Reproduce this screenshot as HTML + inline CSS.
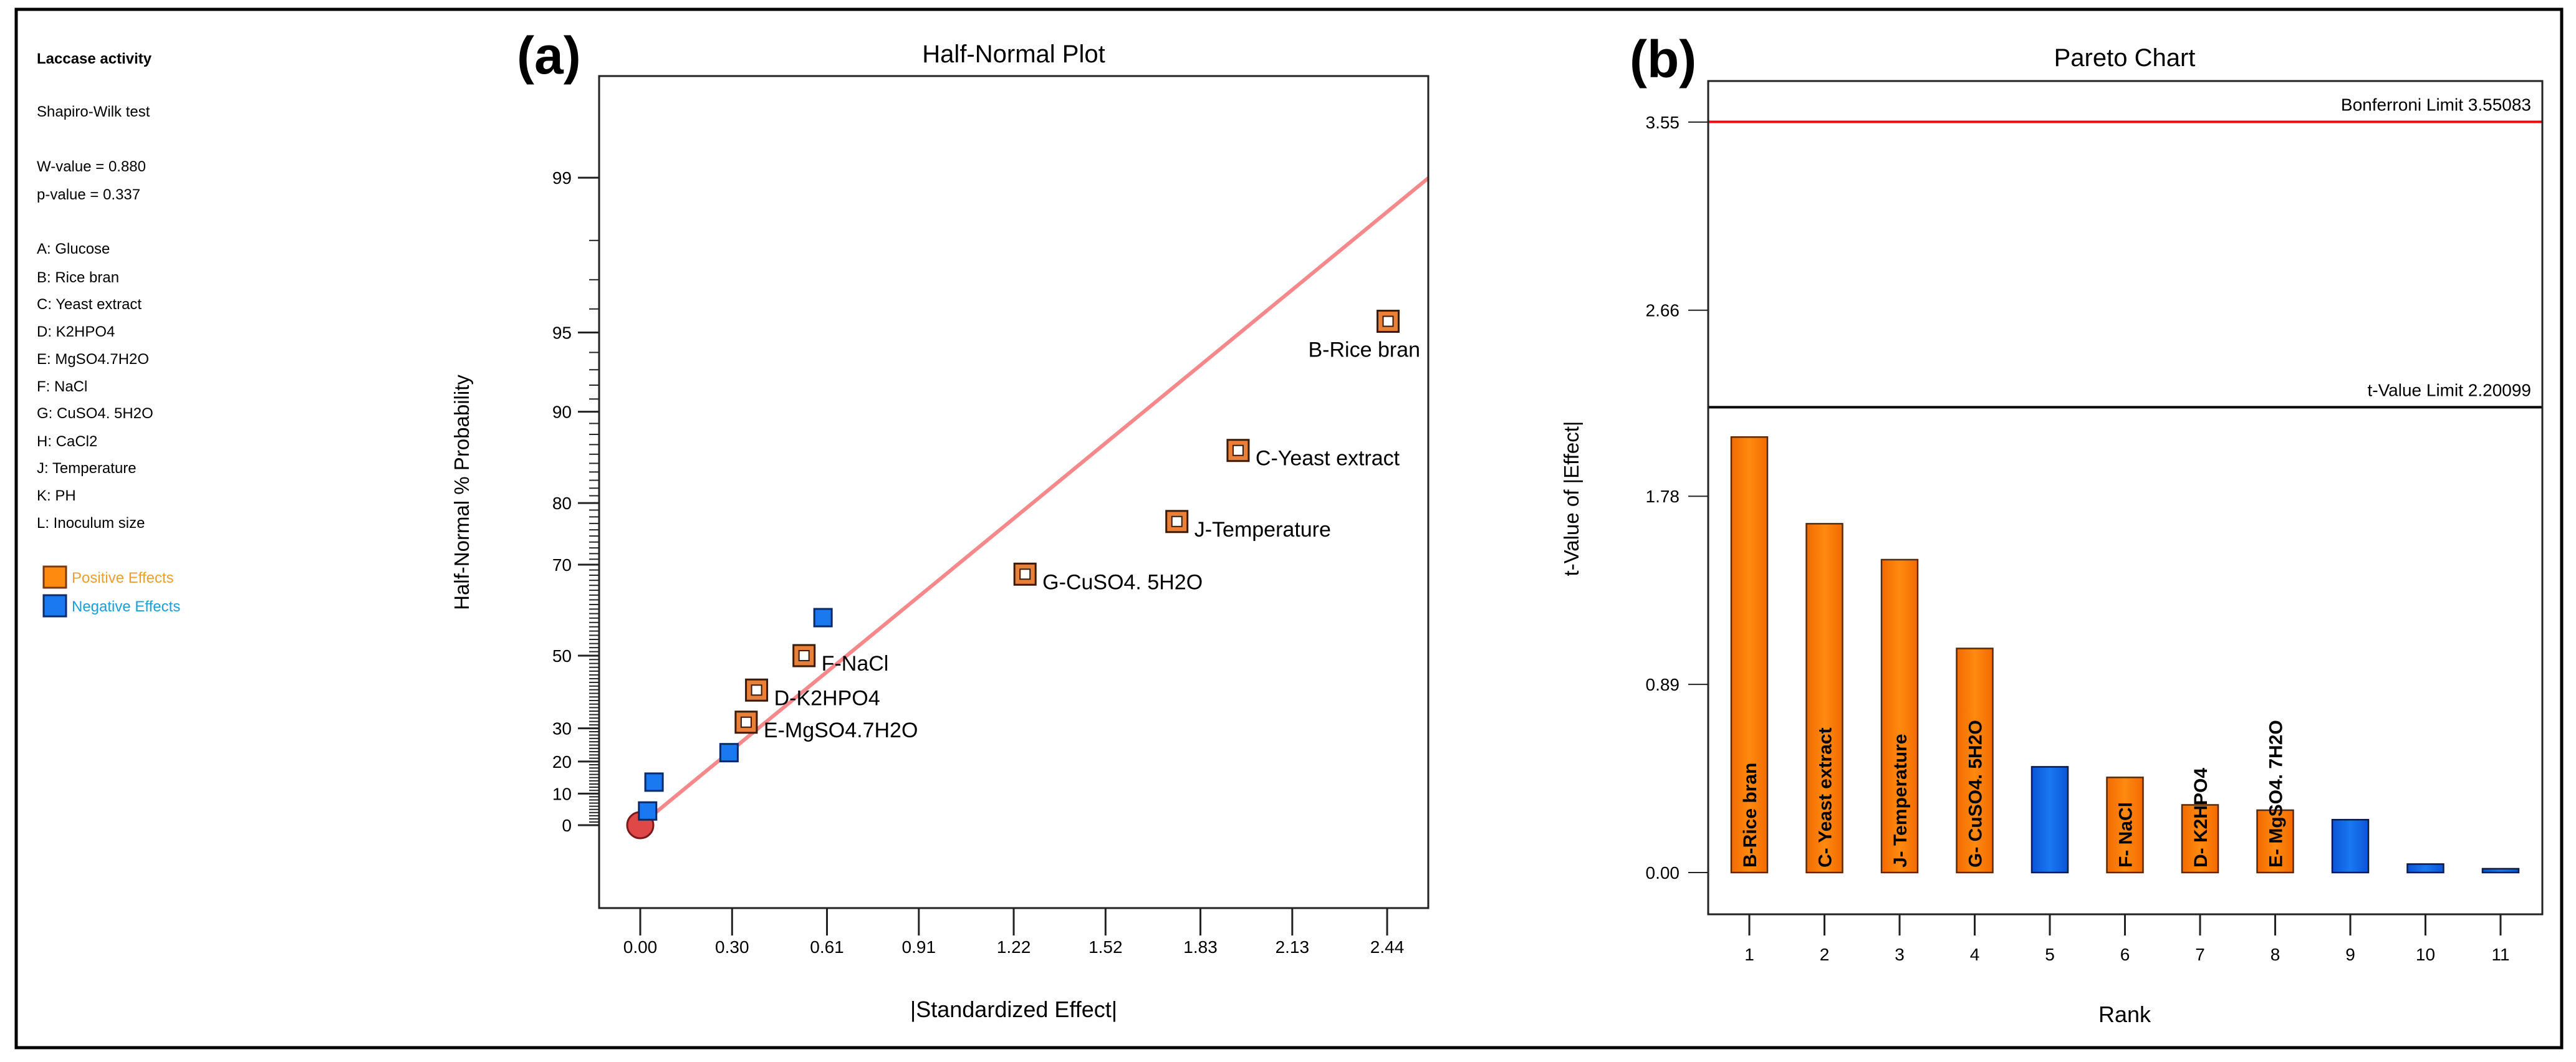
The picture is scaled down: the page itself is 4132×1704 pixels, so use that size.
<!DOCTYPE html>
<html><head><meta charset="utf-8"><style>
html,body{margin:0;padding:0;background:#fff}
svg{display:block;font-family:"Liberation Sans",sans-serif}
</style></head><body>
<svg id="root" width="4132" height="1704" viewBox="0 0 4132 1704" xmlns="http://www.w3.org/2000/svg">
<defs>
<linearGradient id="og" x1="0" x2="1" y1="0" y2="0"><stop offset="0" stop-color="#f26a00"/><stop offset="0.5" stop-color="#ff8a10"/><stop offset="1" stop-color="#f26a00"/></linearGradient>
<linearGradient id="bg" x1="0" x2="1" y1="0" y2="0"><stop offset="0" stop-color="#0a55d8"/><stop offset="0.5" stop-color="#1a78f0"/><stop offset="1" stop-color="#0a55d8"/></linearGradient>
</defs>
<rect x="26" y="15" width="4083" height="1666" fill="#fff" stroke="#000" stroke-width="5"/>
<g id="info" font-size="24" fill="#000">
<text x="59" y="102" font-weight="bold">Laccase activity</text>
<text x="59" y="187">Shapiro-Wilk test</text>
<text x="59" y="275">W-value = 0.880</text>
<text x="59" y="320">p-value = 0.337</text>
<text x="59" y="407">A: Glucose</text>
<text x="59" y="453">B: Rice bran</text>
<text x="59" y="496">C: Yeast extract</text>
<text x="59" y="540">D: K2HPO4</text>
<text x="59" y="584">E: MgSO4.7H2O</text>
<text x="59" y="628">F: NaCl</text>
<text x="59" y="671">G: CuSO4. 5H2O</text>
<text x="59" y="716">H: CaCl2</text>
<text x="59" y="759">J: Temperature</text>
<text x="59" y="803">K: PH</text>
<text x="59" y="847">L: Inoculum size</text>
<rect x="70" y="909" width="36" height="34" fill="#ff8a10" stroke="#7a3a10" stroke-width="3"/>
<text x="115" y="935" fill="#e8a030">Positive Effects</text>
<rect x="70" y="955" width="36" height="34" fill="#1a78f0" stroke="#0a2a6a" stroke-width="3"/>
<text x="115" y="981" fill="#18a0d8">Negative Effects</text>
</g>
<g id="pa"></g>
<g id="pb"></g>
</svg>
<script>
// ---- Half-normal plot data ----
const hnEffects = [0.024, 0.045, 0.29, 0.346, 0.38, 0.535, 0.597, 1.257, 1.753, 1.953, 2.443];
const hnProbs = [4.5, 13.6, 22.7, 31.8, 40.9, 50, 59.1, 68.2, 77.3, 86.4, 95.5];
const hnSigns = ["neg","neg","neg","pos","pos","pos","neg","pos","pos","pos","pos"];
const hnLabels = ["","","","E-MgSO4.7H2O","D-K2HPO4","F-NaCl","","G-CuSO4. 5H2O","J-Temperature","C-Yeast extract","B-Rice bran"];
const hnXTicks = [0.00, 0.30, 0.61, 0.91, 1.22, 1.52, 1.83, 2.13, 2.44];
const hnYTicks = [0, 10, 20, 30, 50, 70, 80, 90, 95, 99];
// ---- Pareto data ----
const parRanks = [1,2,3,4,5,6,7,8,9,10,11];
const parValues = [2.06, 1.65, 1.48, 1.06, 0.50, 0.45, 0.32, 0.295, 0.25, 0.04, 0.018];
const parSigns = ["pos","pos","pos","pos","neg","pos","pos","pos","neg","neg","neg"];
const parLabels = ["B-Rice bran","C- Yeast extract","J- Temperature","G- CuSO4. 5H2O","","F- NaCl","D- K2HPO4","E- MgSO4. 7H2O","","",""];
const parYTicks = [0.00, 0.89, 1.78, 2.66, 3.55];
const bonferroni = 3.55083;
const tLimit = 2.20099;

const NS = "http://www.w3.org/2000/svg";
function mk(parent, tag, attrs, text) {
  const e = document.createElementNS(NS, tag);
  for (const k in attrs) e.setAttribute(k, attrs[k]);
  if (text !== undefined) e.textContent = text;
  parent.appendChild(e);
  return e;
}
function invNorm(p) {
  const a=[-39.6968302866538,220.946098424521,-275.928510446969,138.357751867269,-30.6647980661472,2.50662827745924];
  const b=[-54.4760987982241,161.585836858041,-155.698979859887,66.8013118877197,-13.2806815528857];
  const c=[-0.00778489400243029,-0.322396458041136,-2.40075827716184,-2.54973253934373,4.37466414146497,2.93816398269878];
  const d=[0.00778469570904146,0.32246712907004,2.445134137143,3.75440866190742];
  const pl=0.02425;
  let q,r;
  if (p<pl){q=Math.sqrt(-2*Math.log(p));return (((((c[0]*q+c[1])*q+c[2])*q+c[3])*q+c[4])*q+c[5])/((((d[0]*q+d[1])*q+d[2])*q+d[3])*q+1);}
  if (p>1-pl){q=Math.sqrt(-2*Math.log(1-p));return -(((((c[0]*q+c[1])*q+c[2])*q+c[3])*q+c[4])*q+c[5])/((((d[0]*q+d[1])*q+d[2])*q+d[3])*q+1);}
  q=p-0.5;r=q*q;
  return (((((a[0]*r+a[1])*r+a[2])*r+a[3])*r+a[4])*r+a[5])*q/(((((b[0]*r+b[1])*r+b[2])*r+b[3])*r+b[4])*r+1);
}
// ---- Panel A ----
const pa = document.getElementById('pa');
const A = {l:961, r:2291, t:122, b:1457};
const ax = v => 1027 + v * 491;
const zOf = p => p <= 0 ? 0 : invNorm(0.5 + p / 200);
const ay = p => 1324 - zOf(p) * 403.3;
let t;
t = mk(pa,'text',{x:829,y:118,'font-size':84,'font-weight':'bold'},'(a)');


t = mk(pa,'text',{x:1626,y:100,'font-size':40,'text-anchor':'middle'},'Half-Normal Plot');


mk(pa,'clipPath',{id:'clipA'});
mk(document.getElementById('clipA'),'rect',{x:A.l,y:A.t,width:A.r-A.l,height:A.b-A.t});
const zTop = (1324 - A.t)/403.3;
t = mk(pa,'line',{x1:ax(0),y1:1324,x2:ax(zTop),y2:1324-zTop*403.3,stroke:'#f4888a','stroke-width':6,'clip-path':'url(#clipA)'});


t = mk(pa,'rect',{x:A.l,y:A.t,width:A.r-A.l,height:A.b-A.t,fill:'none',stroke:'#222','stroke-width':3});


for (let p=1;p<=99;p++){
  if (hnYTicks.includes(p)) continue;
  t = mk(pa,'line',{x1:A.l-16,x2:A.l,y1:ay(p),y2:ay(p),stroke:'#222','stroke-width':2});
  
  
}
hnYTicks.forEach(p=>{
  t = mk(pa,'line',{x1:A.l-34,x2:A.l,y1:ay(p),y2:ay(p),stroke:'#222','stroke-width':3});
  
  
  t = mk(pa,'text',{x:917,y:ay(p)+10,'font-size':28,'text-anchor':'end'},String(p));
  
  
});
hnXTicks.forEach(v=>{
  t = mk(pa,'line',{x1:ax(v),x2:ax(v),y1:A.b,y2:A.b+44,stroke:'#222','stroke-width':3});
  
  
  t = mk(pa,'text',{x:ax(v),y:1529,'font-size':28,'text-anchor':'middle'},v.toFixed(2));
  
  
});
t = mk(pa,'text',{x:1626,y:1632,'font-size':36,'text-anchor':'middle'},'|Standardized Effect|');


t = mk(pa,'text',{x:0,y:0,'font-size':33,'text-anchor':'middle',transform:'translate(752,790) rotate(-90)'},'Half-Normal % Probability');


t = mk(pa,'circle',{cx:ax(0),cy:ay(0),r:21,fill:'#e04848',stroke:'#7a1a1a','stroke-width':3});


hnEffects.forEach((v,i)=>{
  const cx=ax(v), cy=ay(hnProbs[i]);
  if (hnSigns[i]==='pos'){
    t = mk(pa,'rect',{x:cx-17,y:cy-17,width:34,height:34,fill:'#e8803a',stroke:'#3a1a08','stroke-width':3});
    
    
    mk(pa,'rect',{x:cx-8,y:cy-8,width:16,height:16,fill:'#fff',stroke:'#3a1a08','stroke-width':2});
  } else {
    t = mk(pa,'rect',{x:cx-14,y:cy-14,width:28,height:28,fill:'#1a78f0',stroke:'#0a2a6a','stroke-width':3});
    
    
  }
  if (hnLabels[i]){
    const below = i === hnEffects.length-1;
    const lx = below ? cx-128 : cx+28;
    const ly = below ? cy+57 : cy+24;
    t = mk(pa,'text',{x:lx,y:ly,'font-size':34},hnLabels[i]);
    
    
  }
});
// ---- Panel B ----
const pb = document.getElementById('pb');
const B = {l:2740, r:4078, t:130, b:1467};
const bx = r => 2806 + (r-1) * 120.5;
const by = v => 1400 - v * 339.2;
t = mk(pb,'text',{x:2614,y:124,'font-size':84,'font-weight':'bold'},'(b)');


t = mk(pb,'text',{x:3408,y:106,'font-size':40,'text-anchor':'middle'},'Pareto Chart');


parValues.forEach((v,i)=>{
  const cx=bx(parRanks[i]);
  t = mk(pb,'rect',{x:cx-29,y:by(v),width:58,height:by(0)-by(v),fill:parSigns[i]==='pos'?'url(#og)':'url(#bg)',stroke:parSigns[i]==='pos'?'#5a2a08':'#0a1a4a','stroke-width':2.5});
  
  
  if (parLabels[i]){
    t = mk(pb,'text',{x:0,y:0,'font-size':30,'font-weight':'bold',fill:'#000',transform:'translate('+(cx+11)+','+(by(0)-8)+') rotate(-90)'},parLabels[i]);
    
    
  }
});
t = mk(pb,'line',{x1:B.l,x2:B.r,y1:by(bonferroni),y2:by(bonferroni),stroke:'#e01010','stroke-width':4});


t = mk(pb,'text',{x:4060,y:by(bonferroni)-18,'font-size':28,'text-anchor':'end'},'Bonferroni Limit '+bonferroni);


t = mk(pb,'line',{x1:B.l,x2:B.r,y1:by(tLimit),y2:by(tLimit),stroke:'#000','stroke-width':4});


t = mk(pb,'text',{x:4060,y:by(tLimit)-18,'font-size':28,'text-anchor':'end'},'t-Value Limit '+tLimit);


t = mk(pb,'rect',{x:B.l,y:B.t,width:B.r-B.l,height:B.b-B.t,fill:'none',stroke:'#222','stroke-width':3});


parYTicks.forEach(v=>{
  t = mk(pb,'line',{x1:B.l-32,x2:B.l,y1:by(v),y2:by(v),stroke:'#222','stroke-width':2});
  
  
  t = mk(pb,'text',{x:2694,y:by(v)+10,'font-size':28,'text-anchor':'end'},v.toFixed(2));
  
  
});
parRanks.forEach(r=>{
  t = mk(pb,'line',{x1:bx(r),x2:bx(r),y1:B.b,y2:B.b+34,stroke:'#222','stroke-width':3});
  
  
  t = mk(pb,'text',{x:bx(r),y:1541,'font-size':28,'text-anchor':'middle'},String(r));
  
  
});
t = mk(pb,'text',{x:3408,y:1640,'font-size':36,'text-anchor':'middle'},'Rank');


t = mk(pb,'text',{x:0,y:0,'font-size':33,'text-anchor':'middle',transform:'translate(2532,800) rotate(-90)'},'t-Value of |Effect|');


</script>
</body></html>
